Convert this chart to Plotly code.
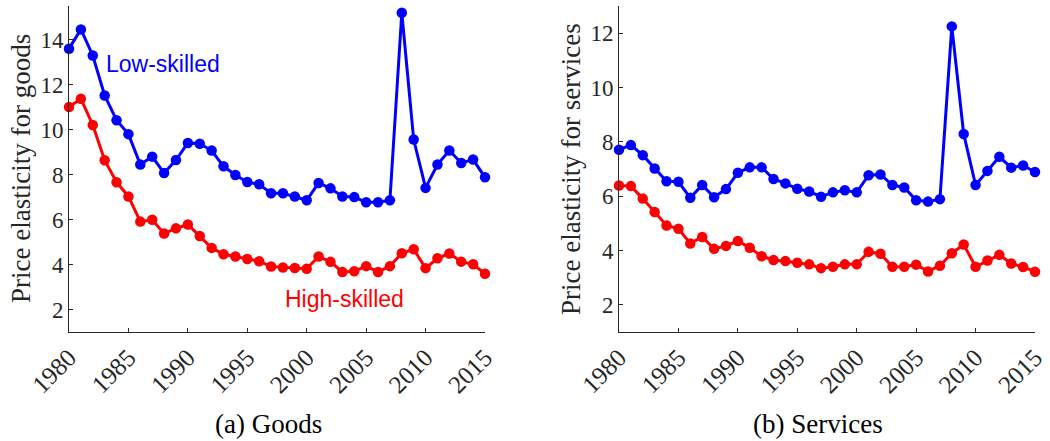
import plotly.graph_objects as go

years = list(range(1980, 2016))

goods_low = [13.6, 14.46, 13.3, 11.52, 10.42, 9.8, 8.45, 8.8, 8.07, 8.65,
             9.41, 9.37, 9.07, 8.37, 7.98, 7.67, 7.57, 7.17, 7.17, 7.03,
             6.86, 7.63, 7.39, 7.03, 7.0, 6.77, 6.77, 6.86, 15.2, 9.56,
             7.41, 8.45, 9.07, 8.52, 8.67, 7.88]
goods_high = [11.01, 11.37, 10.21, 8.64, 7.66, 7.03, 5.91, 5.99, 5.38, 5.61,
              5.78, 5.27, 4.74, 4.46, 4.36, 4.25, 4.15, 3.91, 3.87, 3.85,
              3.81, 4.36, 4.12, 3.67, 3.70, 3.93, 3.67, 3.93, 4.5, 4.68,
              3.84, 4.28, 4.49, 4.13, 4.01, 3.59]
serv_low = [7.71, 7.88, 7.51, 7.02, 6.55, 6.53, 5.94, 6.41, 5.96, 6.26,
            6.86, 7.06, 7.06, 6.63, 6.47, 6.27, 6.17, 5.98, 6.14, 6.22,
            6.14, 6.77, 6.80, 6.41, 6.32, 5.85, 5.80, 5.89, 12.25, 8.29,
            6.41, 6.93, 7.45, 7.05, 7.13, 6.89]
serv_high = [6.39, 6.37, 5.91, 5.42, 4.92, 4.80, 4.26, 4.50, 4.06, 4.17,
             4.35, 4.10, 3.79, 3.65, 3.61, 3.55, 3.49, 3.35, 3.40, 3.49,
             3.49, 3.95, 3.88, 3.40, 3.40, 3.48, 3.23, 3.44, 3.90, 4.22,
             3.40, 3.63, 3.84, 3.52, 3.39, 3.22]

x_ticks = [1980, 1985, 1990, 1995, 2000, 2005, 2010, 2015]
goods_yticks = [2, 4, 6, 8, 10, 12, 14]
serv_yticks = [2, 4, 6, 8, 10, 12]

W, H = 1050, 441
BLUE = "#0000FF"
RED = "#FF0000"
AX = "#262626"
SERIF = "Liberation Serif, DejaVu Serif, serif"
SANS = "Liberation Sans, Arial, sans-serif"

fig = go.Figure()

def add(xa, ya, y, color):
    fig.add_trace(go.Scatter(
        x=years, y=y, mode="lines+markers", xaxis=xa, yaxis=ya,
        line=dict(color=color, width=3),
        marker=dict(color=color, size=10.5),
        showlegend=False, hoverinfo="skip", cliponaxis=False))

add("x", "y", goods_low, BLUE)
add("x", "y", goods_high, RED)
add("x2", "y2", serv_low, BLUE)
add("x2", "y2", serv_high, RED)

ydom = [(H - 332) / H, (H - 6) / H]

common_x = dict(range=[1980, 2015], tickvals=x_ticks, tickangle=-45,
                showline=True, linecolor=AX, linewidth=1, ticks="inside",
                ticklen=4, tickcolor=AX, showgrid=False, zeroline=False,
                automargin=False,
                tickfont=dict(family=SERIF, size=25, color=AX), mirror=False)
common_y = dict(showline=True, linecolor=AX, linewidth=1, ticks="inside",
                ticklen=4, tickcolor=AX, showgrid=False, zeroline=False,
                automargin=False,
                tickfont=dict(family=SERIF, size=23, color=AX), mirror=False)

fig.update_layout(
    width=W, height=H,
    margin=dict(l=0, r=0, t=0, b=0, autoexpand=False),
    paper_bgcolor="white", plot_bgcolor="white",
    xaxis=dict(domain=[69 / W, 485 / W], anchor="y", **common_x),
    yaxis=dict(domain=ydom, anchor="x", range=[1, 15.5], tickvals=goods_yticks, **common_y),
    xaxis2=dict(domain=[619 / W, 1035 / W], anchor="y2", **common_x),
    yaxis2=dict(domain=ydom, anchor="x2", range=[1, 13], tickvals=serv_yticks, **common_y),
)

def ann(text, px, py, size, color, family, angle=0):
    fig.add_annotation(text=text, x=px / W, y=1 - py / H, xref="paper", yref="paper",
                       showarrow=False, textangle=angle,
                       font=dict(size=size, color=color, family=family),
                       xanchor="center", yanchor="middle")

ann("Price elasticity for goods", 21, 169, 27, AX, SERIF, -90)
ann("Price elasticity for services", 571, 169, 27, AX, SERIF, -90)
ann("Low-skilled", 163, 64, 23, BLUE, SANS)
ann("High-skilled", 344, 299, 23, RED, SANS)
ann("(a) Goods", 268, 424, 27, "black", SERIF)
ann("(b) Services", 818, 424, 27, "black", SERIF)

fig.write_html("out.html",
               config={"displayModeBar": False, "staticPlot": True},
               post_script="document.body.style.margin='0';document.body.style.overflow='hidden';")
